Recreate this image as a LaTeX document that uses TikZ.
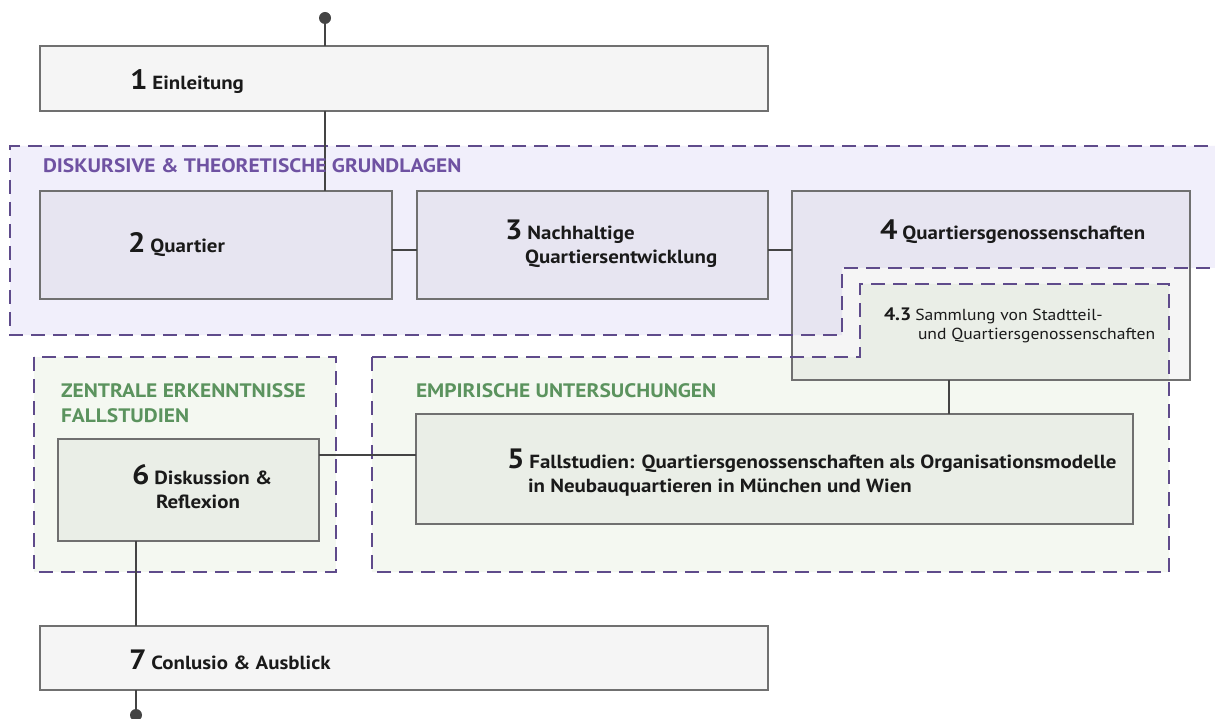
\documentclass[tikz,border=0pt]{standalone}
\usepackage{fontspec}
\setmainfont{PT Sans}[FakeStretch=1.1]
\definecolor{lavbg}{HTML}{F1EFFB}
\definecolor{greenbg}{HTML}{F4F8F1}
\definecolor{dashcol}{HTML}{5F4B8B}
\definecolor{lavtitle}{HTML}{6F52A2}
\definecolor{greentitle}{HTML}{5B935E}
\definecolor{boxline}{HTML}{707070}
\definecolor{connline}{HTML}{444444}
\definecolor{ink}{HTML}{1A1A1A}
\newcommand\secnum[1]{{\fontsize{28}{28}\selectfont #1}\hspace{5pt}}
\newcommand\subnum[1]{{\bfseries\fontsize{18}{18}\selectfont #1}\hspace{4pt}}
\tikzset{
  box/.style={draw=boxline, line width=1.2pt, fill=black, fill opacity=0.04,
    draw opacity=1, anchor=north west, inner sep=0pt, outer sep=0pt},
  region/.style={draw=dashcol, line width=1.5pt, dash pattern=on 14pt off 8pt},
  conn/.style={draw=connline, line width=1.4pt},
  lbl/.style={font=\bfseries\fontsize{19}{23}\selectfont, text=ink,
    inner sep=0pt, outer sep=0pt, anchor=base west},
  sublbl/.style={font=\fontsize{16}{19}\selectfont, text=ink,
    inner sep=0pt, outer sep=0pt, anchor=base west},
  grouptitle/.style={font=\bfseries\fontsize{19.5}{25}\selectfont,
    inner sep=0pt, outer sep=0pt, anchor=base west, align=left},
  enddot/.style={circle, fill=connline, inner sep=0pt, minimum size=12pt}
}
\begin{document}
\begin{tikzpicture}[x=1pt,y=-1pt]
\useasboundingbox (0,0) rectangle (1215,719);
\fill[white] (0,0) rectangle (1215,719);
\begin{scope}
\clip (0,0) rectangle (1215,719);
% group backgrounds
\fill[lavbg] (10,146) -- (1230,146) -- (1230,268) -- (842,268) -- (842,335) -- (10,335) -- cycle;
\fill[greenbg] (372,357) -- (860,357) -- (860,284) -- (1169,284) -- (1169,572) -- (372,572) -- cycle;
\fill[greenbg] (34,357) rectangle (336,572);

% chapter boxes
\node[box, minimum width=728pt, minimum height=65pt] (b1) at (40,46) {};
\node[box, minimum width=352pt, minimum height=108pt] (b2) at (40,191) {};
\node[box, minimum width=351pt, minimum height=108pt] (b3) at (417,191) {};
\node[box, minimum width=398pt, minimum height=189pt] (b4) at (792,191) {};
\node[box, minimum width=717pt, minimum height=110pt] (b5) at (416,414) {};
\node[box, minimum width=261pt, minimum height=102pt] (b6) at (58,439) {};
\node[box, minimum width=728pt, minimum height=64pt] (b7) at (40,626) {};

% dashed group outlines
\draw[region] (1230,146) -- (10,146) -- (10,335) -- (842,335) -- (842,268) -- (1230,268);
\draw[region] (372,357) -- (860,357) -- (860,284) -- (1169,284) -- (1169,572) -- (372,572) -- cycle;
\draw[region] (34,357) rectangle (336,572);
\end{scope}

% reading path
\node[enddot] (dtop) at (325,18) {};
\node[enddot] (dbot) at (136,715) {};
\coordinate (ax1) at (325,0);
\coordinate (ax2) at (136,0);
\coordinate (ax3) at (949,0);
\coordinate (row1) at (0,250);
\coordinate (row2) at (0,455);
\draw[conn] (dtop.center) -- (b1.north -| ax1);
\draw[conn] (b1.south -| ax1) -- (b2.north -| ax1);
\draw[conn] (b2.east |- row1) -- (b3.west |- row1);
\draw[conn] (b3.east |- row1) -- (b4.west |- row1);
\draw[conn] (b4.south -| ax3) -- (b5.north -| ax3);
\draw[conn] (b6.east |- row2) -- (b5.west |- row2);
\draw[conn] (b6.south -| ax2) -- (b7.north -| ax2);
\draw[conn] (b7.south -| ax2) -- (dbot.center);

% group titles
\node[grouptitle, text=lavtitle] (g1) at (43,173) {DISKURSIVE \& THEORETISCHE GRUNDLAGEN};
\node[grouptitle, text=greentitle] (g2) at (61,397) {ZENTRALE ERKENNTNISSE};
\node[grouptitle, text=greentitle] (g2b) at (61,422) {FALLSTUDIEN};
\node[grouptitle, text=greentitle] (g3) at (416,397) {EMPIRISCHE UNTERSUCHUNGEN};

% chapter labels
\node[lbl] (t1) at (130,90) {\secnum{1}Einleitung};
\node[lbl] (t2) at (128,253) {\secnum{2}Quartier};
\node[lbl] (t3) at (505,240) {\secnum{3}Nachhaltige};
\node[lbl] (t3b) at (525,264) {Quartiersentwicklung};
\node[lbl] (t4) at (880,240) {\secnum{4}Quartiersgenossenschaften};
\node[sublbl] (t43) at (884,320) {\subnum{4.3}Sammlung von Stadtteil-};
\node[sublbl] (t43b) at (918,339) {und Quartiersgenossenschaften};
\node[lbl] (t5) at (507,468) {\secnum{5}Fallstudien: Quartiersgenossenschaften als Organisationsmodelle};
\node[lbl] (t5b) at (528,492) {in Neubauquartieren in München und Wien};
\node[lbl] (t6) at (132,484) {\secnum{6}Diskussion \&};
\node[lbl] (t6b) at (156,508) {Reflexion};
\node[lbl] (t7) at (129,669) {\secnum{7}Conlusio \& Ausblick};
\end{tikzpicture}
\end{document}
